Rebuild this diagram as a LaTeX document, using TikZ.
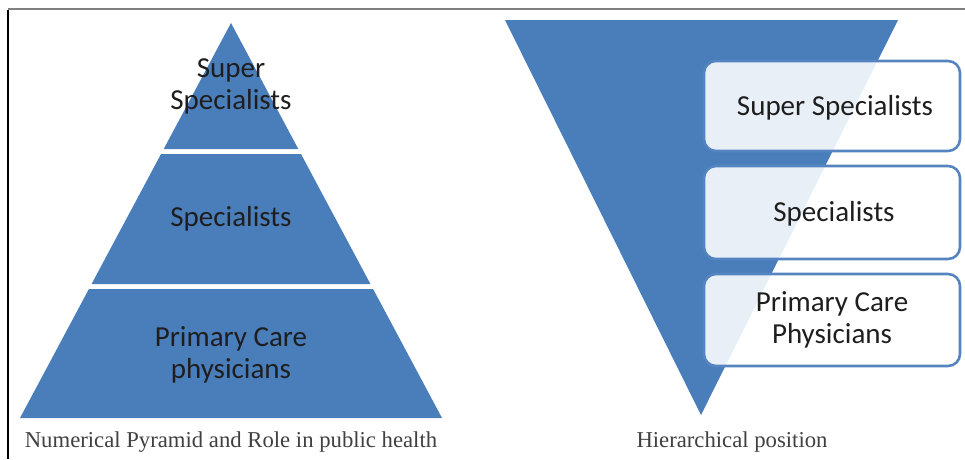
\documentclass[tikz,border=0pt]{standalone}
\usepackage{fontspec}
\usepackage{tikz}
\usetikzlibrary{positioning, shapes, calc}
\newfontfamily\bodyfont{Carlito}
\newfontfamily\capfont{Liberation Serif}
\definecolor{tierblue}{HTML}{4A7EBB}
\definecolor{rimblue}{HTML}{5585C0}
\definecolor{inkgray}{HTML}{1E1E1E}

\begin{document}
\begin{tikzpicture}[x=1pt, y=-1pt,
  tier/.style={fill=tierblue, draw=none},
  label/.style={align=center, text=inkgray, inner sep=0pt,
    font=\bodyfont\fontsize{29}{32}\selectfont},
  rank/.style={rectangle, draw=rimblue, line width=2.6pt, rounded corners=12pt,
    fill=white, fill opacity=0.88, text opacity=1, text=inkgray,
    minimum width=256pt, align=center,
    font=\bodyfont\fontsize{29}{32}\selectfont},
  oneline/.style={text height=21pt, text depth=3pt},
  caption/.style={text=inkgray!85, inner sep=0pt,
    font=\capfont\fontsize{22.7}{26}\selectfont}
]
\useasboundingbox (0,0) rectangle (965,459);

% page frame
\draw[gray, line width=1.6pt] (8,9) -- (965,9);
\draw[black, line width=1.2pt] (8,9.8) -- (8,459);

% numerical pyramid, three tiers
\coordinate (apex) at (231,23);
\coordinate (bl) at (20,418);
\coordinate (br) at (442,418);
\fill[tier] (apex) -- ($(apex)!126/395!(bl)$) -- ($(apex)!126/395!(br)$) -- cycle;
\fill[tier] ($(apex)!131/395!(bl)$) -- ($(apex)!131/395!(br)$)
  -- ($(apex)!261/395!(br)$) -- ($(apex)!261/395!(bl)$) -- cycle;
\fill[tier] ($(apex)!266/395!(bl)$) -- ($(apex)!266/395!(br)$)
  -- (br) -- (bl) -- cycle;

\node[label] (top) at (231,86) {Super\\Specialists};
\node[label] (mid) at (231,219) {Specialists};
\node[label] (base) at (231,355) {Primary Care\\physicians};

\node[caption] (numcap) at (231,442) {Numerical Pyramid and Role in public health};

% hierarchical position, inverted
\fill[tier] (505,20) -- (898,20) -- (701,415) -- cycle;

\node[rank, oneline, minimum height=90pt] (super) at (832,106) {\hspace*{6pt}Super Specialists};
\node[rank, oneline, minimum height=93pt] (spec) at (832,212.5) {\hspace*{4pt}Specialists};
\node[rank, minimum height=92pt] (prim) at (832,320) {Primary Care\\Physicians};

\node[caption] (hiercap) at (732,442) {Hierarchical position};
\end{tikzpicture}
\end{document}
